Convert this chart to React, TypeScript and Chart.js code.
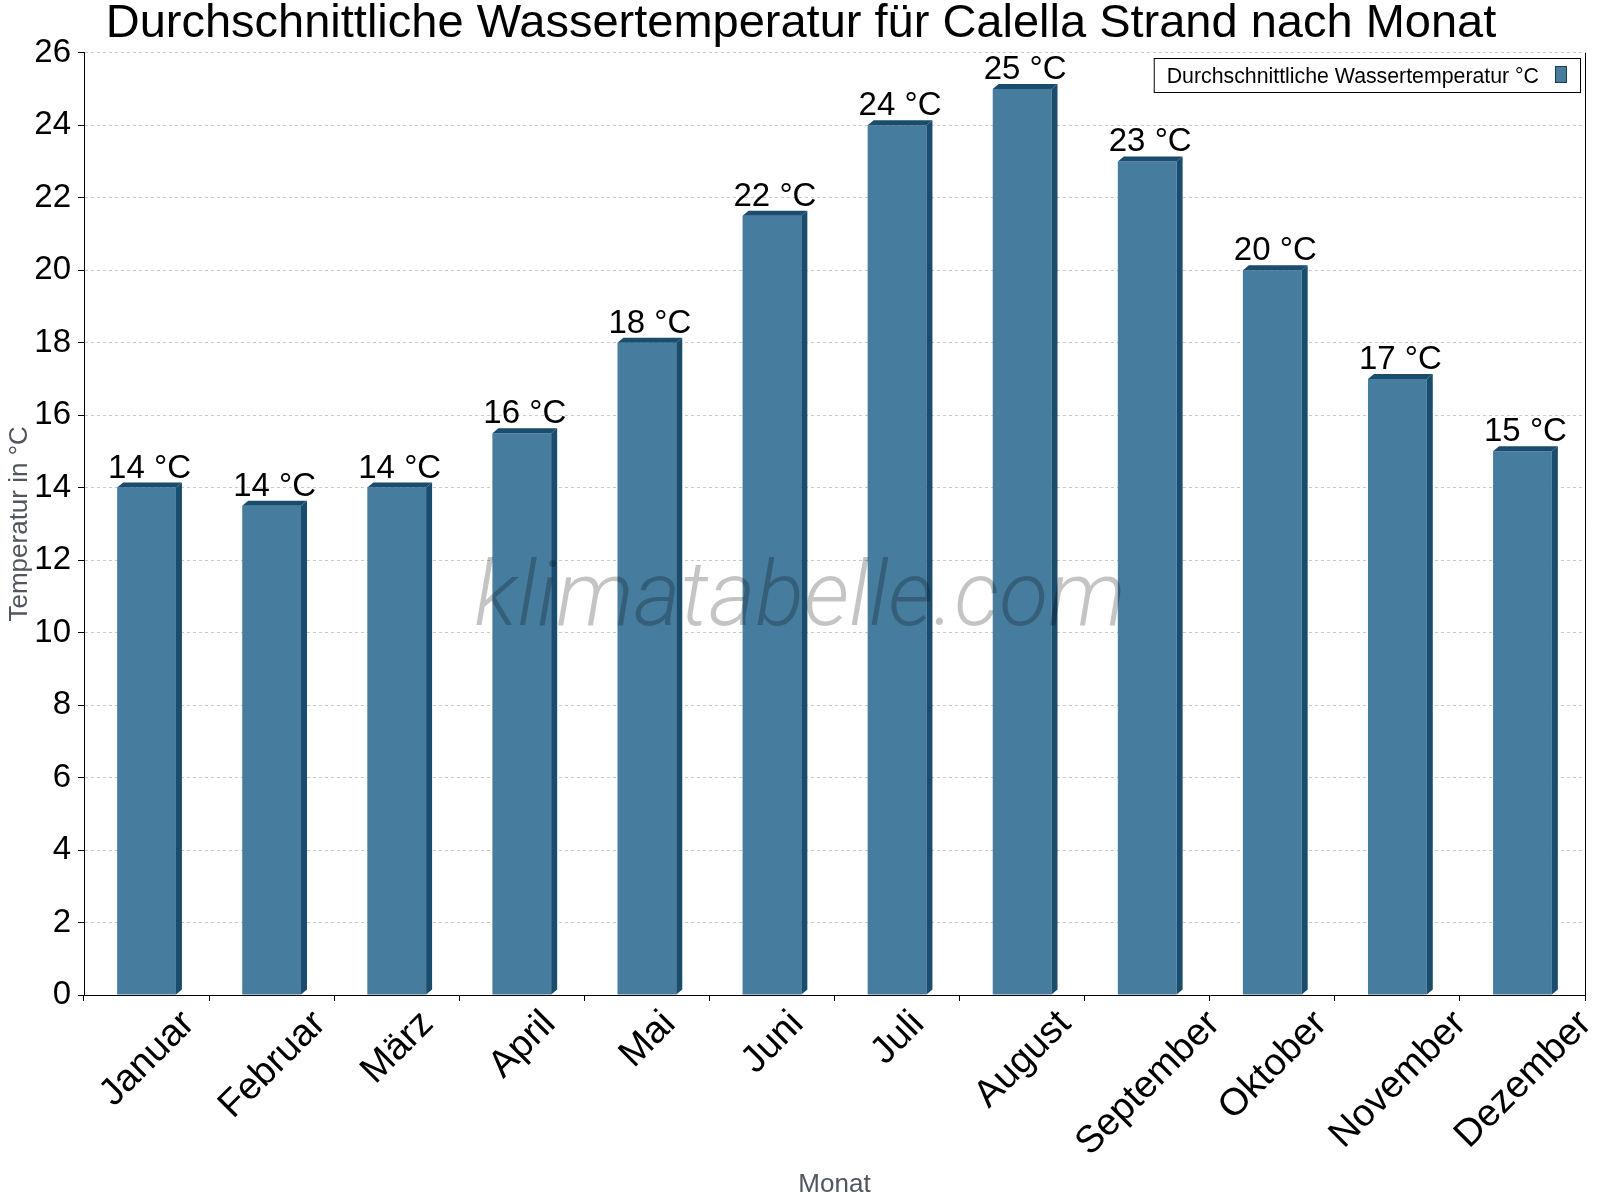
import { useEffect, useRef } from "react"
import { Chart, registerables } from "chart.js"

Chart.register(...registerables)

const FONT = '"Liberation Sans", Arial, Helvetica, sans-serif'

const months = [
  "Januar",
  "Februar",
  "März",
  "April",
  "Mai",
  "Juni",
  "Juli",
  "August",
  "September",
  "Oktober",
  "November",
  "Dezember",
]
const waterTemp = [14, 13.5, 14, 15.5, 18, 21.5, 24, 25, 23, 20, 17, 15]
const yMin = 0
const yMax = 26
const yStep = 2

const seriesLabel = "Durchschnittliche Wassertemperatur °C"
const titleText = "Durchschnittliche Wassertemperatur für Calella Strand nach Monat"

const FRONT = "#467C9E"
const DARK = "#1A4C6E"

// fake 3D: dark top face and right side on every bar
const bar3d = {
  id: "bar3d",
  afterDatasetsDraw(chart: Chart) {
    const ctx = chart.ctx
    const dx = 6
    const dy = 5
    chart.getDatasetMeta(0).data.forEach((el: any) => {
      const { x, y, base, width } = el.getProps(["x", "y", "base", "width"], true)
      const left = x - width / 2
      const right = x + width / 2
      ctx.save()
      ctx.fillStyle = DARK
      ctx.beginPath()
      ctx.moveTo(left, y)
      ctx.lineTo(left + dx, y - dy)
      ctx.lineTo(right + dx, y - dy)
      ctx.lineTo(right, y)
      ctx.closePath()
      ctx.fill()
      ctx.beginPath()
      ctx.moveTo(right, y)
      ctx.lineTo(right + dx, y - dy)
      ctx.lineTo(right + dx, base - dy)
      ctx.lineTo(right, base)
      ctx.closePath()
      ctx.fill()
      ctx.restore()
    })
  },
}

const overlay = {
  id: "overlay",
  afterDraw(chart: Chart) {
    const ctx = chart.ctx
    const area = chart.chartArea
    const xScale = chart.scales.x

    // title
    ctx.save()
    ctx.font = `47px ${FONT}`
    ctx.fillStyle = "#000"
    ctx.textAlign = "center"
    ctx.textBaseline = "alphabetic"
    ctx.fillText(titleText, chart.width / 2 + 1, 37)
    ctx.restore()

    // watermark
    ctx.save()
    ctx.font = `italic 300 90px Roboto, "Open Sans", ${FONT}`
    ctx.fillStyle = "rgba(0,0,0,0.23)"
    ctx.textAlign = "center"
    ctx.textBaseline = "alphabetic"
    ctx.fillText("klimatabelle.com", chart.width / 2, 625)
    ctx.restore()

    // value labels
    ctx.save()
    ctx.font = `33px ${FONT}`
    ctx.fillStyle = "#000"
    ctx.textAlign = "center"
    ctx.textBaseline = "alphabetic"
    chart.getDatasetMeta(0).data.forEach((el: any, i) => {
      ctx.fillText(`${Math.round(waterTemp[i])} °C`, el.x + 3, el.y - 10)
    })
    ctx.restore()

    // right frame line
    ctx.save()
    ctx.strokeStyle = "#000"
    ctx.lineWidth = 1
    ctx.beginPath()
    ctx.moveTo(area.right + 0.5, area.top)
    ctx.lineTo(area.right + 0.5, area.bottom)
    ctx.stroke()
    ctx.restore()

    // rotated month labels
    ctx.save()
    ctx.font = `38px ${FONT}`
    ctx.fillStyle = "#000"
    months.forEach((m, i) => {
      const px = xScale.getPixelForValue(i)
      const w = ctx.measureText(m).width
      const cy = xScale.top + 23 + w * 0.3535
      ctx.save()
      ctx.translate(px + 1, cy)
      ctx.rotate(-Math.PI / 4)
      ctx.textAlign = "center"
      ctx.textBaseline = "middle"
      ctx.fillText(m, 0, 0)
      ctx.restore()
    })
    ctx.restore()

    // legend box, swatch after the text
    ctx.save()
    ctx.font = `21.3px ${FONT}`
    const boxRight = area.right - 5
    const swatchRight = boxRight - 13
    const swatchLeft = swatchRight - 12
    const textRight = swatchLeft - 16
    const tw = ctx.measureText(seriesLabel).width
    const boxLeft = textRight - tw - 13
    ctx.fillStyle = "#fff"
    ctx.fillRect(boxLeft, 58, boxRight - boxLeft, 34)
    ctx.strokeStyle = "#000"
    ctx.lineWidth = 1
    ctx.strokeRect(boxLeft + 0.5, 58.5, boxRight - boxLeft, 34)
    ctx.fillStyle = "#000"
    ctx.textAlign = "right"
    ctx.textBaseline = "alphabetic"
    ctx.fillText(seriesLabel, textRight, 82.5)
    ctx.fillStyle = FRONT
    ctx.fillRect(swatchLeft, 66, 12, 17)
    ctx.strokeStyle = "#1d3a4f"
    ctx.strokeRect(swatchLeft + 0.5, 66.5, 11, 16)
    ctx.restore()
  },
}

export default function App() {
  const chartRef = useRef<HTMLCanvasElement>(null)
  const chartInstance = useRef<Chart | null>(null)

  useEffect(() => {
    if (!chartRef.current) return

    if (chartInstance.current) {
      chartInstance.current.destroy()
    }

    const ctx = chartRef.current.getContext("2d")
    if (!ctx) return

    chartInstance.current = new Chart(ctx, {
      type: "bar",
      data: {
        labels: months,
        datasets: [
          {
            label: seriesLabel,
            data: waterTemp,
            backgroundColor: FRONT,
            borderWidth: 0,
            barPercentage: 0.47,
            categoryPercentage: 1,
          },
        ],
      },
      options: {
        responsive: true,
        maintainAspectRatio: false,
        animation: false,
        layout: {
          padding: { left: 0, right: 15, top: 52.7, bottom: 0 },
        },
        plugins: {
          legend: { display: false },
          tooltip: { enabled: false },
          title: { display: false },
        },
        scales: {
          x: {
            afterFit: (scale) => {
              scale.height = 205
            },
            grid: {
              drawOnChartArea: false,
              drawTicks: true,
              tickLength: 6,
              tickColor: "#000",
              color: "#000",
            },
            border: { display: true, color: "#000", width: 1 },
            ticks: { display: false },
            title: {
              display: true,
              text: "Monat",
              color: "#50565e",
              font: { family: FONT, size: 26 },
              padding: { top: 0, bottom: 0 },
            },
          },
          y: {
            min: yMin,
            max: yMax,
            afterFit: (scale) => {
              scale.width = 84
            },
            grid: {
              color: "#c8c8c8",
              lineWidth: 1,
              drawTicks: true,
              tickLength: 6,
              tickColor: "#000",
            },
            border: { display: true, color: "#000", width: 1, dash: [3, 3] },
            ticks: {
              stepSize: yStep,
              color: "#000",
              padding: 7,
              font: { family: FONT, size: 33 },
            },
            title: {
              display: true,
              text: "Temperatur in °C",
              color: "#50565e",
              font: { family: FONT, size: 26 },
              padding: { top: 4, bottom: 0 },
            },
          },
        },
      },
      plugins: [bar3d, overlay],
    })

    return () => {
      if (chartInstance.current) {
        chartInstance.current.destroy()
        chartInstance.current = null
      }
    }
  }, [])

  return (
    <div style={{ position: "absolute", left: 0, top: 0, width: 1600, height: 1200 }}>
      <canvas ref={chartRef} />
    </div>
  )
}
